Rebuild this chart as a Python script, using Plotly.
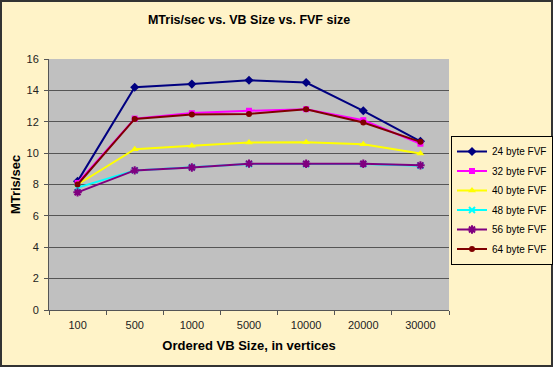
import plotly.graph_objects as go

categories = ["100", "500", "1000", "5000", "10000", "20000", "30000"]
fvf_24 = [8.2, 14.2, 14.4, 14.65, 14.5, 12.7, 10.75]
fvf_32 = [8.1, 12.2, 12.55, 12.7, 12.8, 12.1, 10.6]
fvf_40 = [8.0, 10.25, 10.47, 10.68, 10.7, 10.57, 9.97]
fvf_48 = [7.8, 8.9, 9.1, 9.3, 9.3, 9.3, 9.2]
fvf_56 = [7.5, 8.9, 9.08, 9.33, 9.32, 9.32, 9.22]
fvf_64 = [8.0, 12.18, 12.46, 12.5, 12.8, 11.95, 10.72]
y_ticks = [0, 2, 4, 6, 8, 10, 12, 14, 16]

series = [
    ("24 byte FVF", fvf_24, "#000080", "diamond", 7),
    ("32 byte FVF", fvf_32, "#FF00FF", "square", 6),
    ("40 byte FVF", fvf_40, "#FFFF00", "triangle-up", 7),
    ("48 byte FVF", fvf_48, "#00FFFF", "x-thin-open", 6),
    ("56 byte FVF", fvf_56, "#800080", "asterisk-open", 7),
    ("64 byte FVF", fvf_64, "#800000", "circle", 6),
]

fig = go.Figure()
for name, vals, color, sym, size in series:
    mk = dict(symbol=sym, size=size, color=color)
    if sym.endswith("open"):
        mk["line"] = dict(color=color, width=2)
    fig.add_trace(go.Scatter(
        x=categories, y=vals, name=name, mode="lines+markers", legendgroup=name,
        line=dict(color=color, width=2), marker=mk,
    ))

W, H = 553, 367
L, R, T, B = 49, 104, 59, 57
pw, ph = W - L - R, H - T - B

fig.update_layout(
    width=W, height=H,
    margin=dict(l=L, r=R, t=T, b=B, autoexpand=False),
    paper_bgcolor="#FFF3C8",
    plot_bgcolor="#C0C0C0",
    font=dict(family="Liberation Sans, Arial, sans-serif", size=11, color="#000000"),
    title=dict(text="<b>MTris/sec vs. VB Size vs. FVF size</b>", x=0.5, xref="paper",
               y=1 - 20 / H, yanchor="middle", font=dict(size=12.5)),
    showlegend=True,
    legend=dict(x=1 + 2 / pw, xanchor="left", y=1 - (136 - T) / ph, yanchor="top",
                bgcolor="#FFF3C8", bordercolor="#000000", borderwidth=1,
                font=dict(size=10), tracegroupgap=0.5, itemwidth=30),
    xaxis=dict(type="category", tickson="boundaries", ticks="outside", ticklen=4,
               tickcolor="#555555", showgrid=False, showline=True, linecolor="#555555",
               linewidth=1, range=[-0.5, 6.5], automargin=False, ticklabelstandoff=5,
               tickfont=dict(color="#222222"),
               title=dict(text="<b>Ordered VB Size, in vertices</b>", standoff=10)),
    yaxis=dict(range=[0, 16], tickvals=y_ticks, ticks="outside", ticklen=4,
               tickcolor="#555555", showgrid=True, gridcolor="#555555", gridwidth=1,
               showline=True, linecolor="#555555", linewidth=1, zeroline=False,
               automargin=False, ticklabelstandoff=3, tickfont=dict(color="#222222"),
               title=dict(text="<b>MTris/sec</b>", standoff=2)),
    shapes=[dict(type="rect", xref="paper", yref="paper",
                 x0=(1 - L) / pw, x1=(W - 1 - L) / pw,
                 y0=(1 - B) / ph, y1=1 + (T - 1) / ph,
                 line=dict(color="#333333", width=2), fillcolor="rgba(0,0,0,0)")],
)

fig.write_html("out.html", config={"displayModeBar": False},
               post_script="document.body.style.margin='0';document.body.style.overflow='hidden';")
